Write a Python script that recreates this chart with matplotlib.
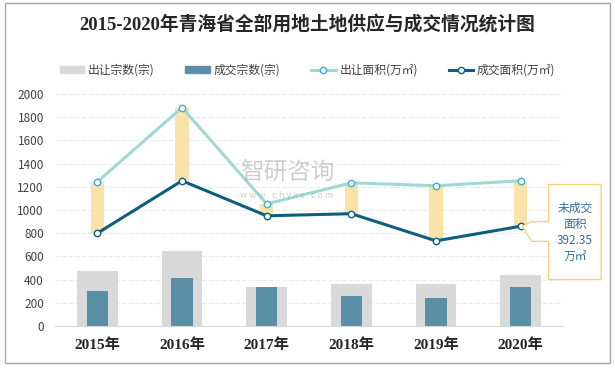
import matplotlib
matplotlib.use("Agg")
import matplotlib.pyplot as plt
from matplotlib.patches import Rectangle, Polygon
from matplotlib.lines import Line2D
import numpy as np

plt.rcParams['font.family'] = ['Noto Sans CJK SC', 'DejaVu Sans']

years = ['2015年', '2016年', '2017年', '2018年', '2019年', '2020年']
supply_count = [470, 650, 336, 362, 362, 439]      # 出让宗数(宗)
deal_count = [301, 413, 336, 258, 244, 339]        # 成交宗数(宗)
supply_area = [1243, 1883, 1053, 1234, 1209, 1252]  # 出让面积(万㎡)
deal_area = [800, 1252, 950, 968, 734, 860]        # 成交面积(万㎡)
unsold_note = '未成交\n面积\n392.35\n万㎡'

C_SUP_BAR = '#D9D9D9'
C_DEAL_BAR = '#5B8FA8'
C_SUP_LINE = '#A0D8D4'
C_DEAL_LINE = '#0E5F7E'
C_GAP = '#F9E3A8'

fig = plt.figure(figsize=(6.15, 3.68), dpi=100)
fig.patches.append(Rectangle((5 / 615, 5 / 368), 605 / 615, 360 / 368, transform=fig.transFigure,
                             fill=False, edgecolor='#A6A6A6', linewidth=1))

ax = fig.add_axes([55 / 615, 1 - 326 / 368, 508 / 615, 232 / 368])
x = np.arange(len(years))

ax.bar(x, supply_count, width=0.48, color=C_SUP_BAR, zorder=2)
ax.bar(x, deal_count, width=0.25, color=C_DEAL_BAR, zorder=3)

# gap between supplied and sold area
for xi, s, d in zip(x, supply_area, deal_area):
    ax.add_patch(Rectangle((xi - 0.078, d), 0.156, s - d, color=C_GAP, zorder=4, linewidth=0))

ax.plot(x, supply_area, color=C_SUP_LINE, lw=2.2, zorder=5,
        marker='o', ms=4.6, mfc='white', mec='#3BAFD9', mew=1)
ax.plot(x, deal_area, color=C_DEAL_LINE, lw=2.2, zorder=6,
        marker='o', ms=4.6, mfc='white', mec=C_DEAL_LINE, mew=1)

ax.set_xlim(-0.5, 5.5)
ax.set_ylim(0, 2000)
ax.set_yticks(range(0, 2001, 200))
ax.set_xticks(x)
ax.set_xticklabels(years, family=['Liberation Serif', 'Noto Sans CJK SC'],
                   fontweight='bold', fontsize=11, color='#262626')
ax.tick_params(axis='y', labelsize=8.5, labelcolor='#404040', length=0, pad=8)
ax.tick_params(axis='x', length=0, pad=9)
ax.grid(axis='y', color='#EBEBEB', lw=0.8, linestyle=(0, (4, 2)), zorder=0)
for side in ['top', 'right', 'left']:
    ax.spines[side].set_visible(False)
ax.spines['bottom'].set_color('#D9D9D9')

# callout box for the unsold area
x0, x1 = 5.33, 5.95
y_top, y_bot = 1220, 400
tip_x, tip_y = 5.02, deal_area[-1]
notch_top, notch_bot = 900, 730
pts = [(x0, y_top), (x1, y_top), (x1, y_bot), (x0, y_bot), (x0, notch_bot),
       (x0 - 0.2, notch_bot), (tip_x, tip_y), (x0 - 0.2, notch_top),
       (x0, notch_top)]
ax.add_patch(Polygon(pts, closed=True, facecolor='white', edgecolor='#F7D27E',
                     lw=1, zorder=7, clip_on=False))
ax.text((x0 + x1) / 2, (y_top + y_bot) / 2, unsold_note, ha='center', va='center',
        fontsize=8.5, color='#2F6E9A', linespacing=1.3, zorder=8, clip_on=False)

# watermark
fig.text(0.39, 0.53, '智研咨询', fontsize=17, color='#9E9E9E', alpha=0.5, ha='left', va='center')
fig.text(0.39, 0.47, 'w w w . c h y x x . c o m', fontsize=6.5, color='#9E9E9E', alpha=0.5,
         ha='left', va='center')

fig.text(0.5, 0.935, '2015-2020年青海省全部用地土地供应与成交情况统计图',
         family=['Liberation Serif', 'Noto Sans CJK SC'], fontweight='bold',
         fontsize=13.5, color='#262626', ha='center', va='center')

handles = [
    Rectangle((0, 0), 1, 1, color=C_SUP_BAR),
    Rectangle((0, 0), 1, 1, color=C_DEAL_BAR),
    Line2D([], [], color=C_SUP_LINE, lw=2.2, marker='o', ms=4.5, mfc='white', mec='#3BAFD9'),
    Line2D([], [], color=C_DEAL_LINE, lw=2.2, marker='o', ms=4.5, mfc='white', mec=C_DEAL_LINE),
]
labels = ['出让宗数(宗)', '成交宗数(宗)', '出让面积(万㎡)', '成交面积(万㎡)']
fig.legend(handles, labels, loc='center', bbox_to_anchor=(0.5, 1 - 70 / 368), ncol=4,
           frameon=False, fontsize=8.5, handlelength=2.1, handleheight=0.55,
           columnspacing=2.6, handletextpad=0.3, labelcolor='#404040')

fig.savefig('out.png', dpi=100)
